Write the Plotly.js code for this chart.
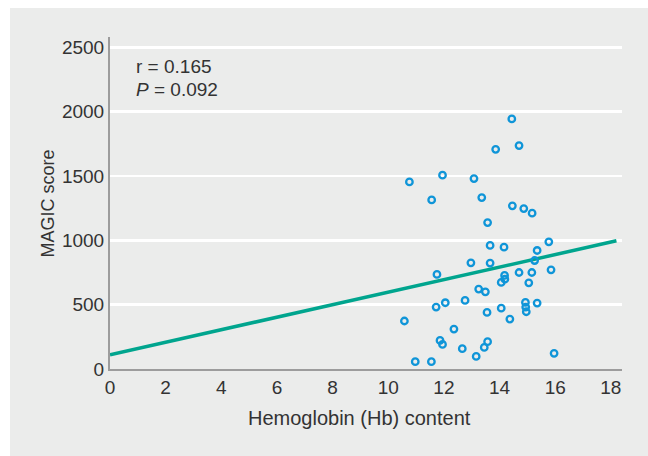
<!DOCTYPE html>
<html>
<head>
<meta charset="utf-8">
<script src="https://cdn.plot.ly/plotly-3.0.1.min.js"></script>
<style>
  html, body { margin: 0; padding: 0; background: #ffffff; }
  #wrap { position: relative; width: 648px; height: 456px; background: #ffffff; overflow: hidden; }
  #panel { position: absolute; left: 10px; top: 8px; width: 638px; height: 448px; background: #ebeceb; }
  #chart { position: absolute; left: 0; top: 0; width: 648px; height: 456px; }
</style>
</head>
<body>
<div id="wrap"><div id="panel"></div><div id="chart"></div></div>
<script>
// Hemoglobin (Hb) content vs MAGIC score
const hb = [14.44, 14.70, 13.86, 11.95, 10.76, 13.08, 11.56, 13.36, 14.46, 14.87,
            15.17, 13.57, 15.77, 13.66, 14.16, 15.35, 15.26, 12.97, 13.66, 11.75,
            15.85, 14.70, 15.16, 14.18, 14.19, 14.06, 15.05, 13.25, 13.49, 12.76,
            12.05, 11.72, 15.35, 14.93, 14.94, 14.96, 14.06, 13.55, 14.37, 10.58,
            12.36, 11.86, 11.95, 13.57, 13.45, 12.66, 13.16, 15.96, 10.97, 11.55];
const magic = [1943, 1736, 1707, 1506, 1454, 1480, 1314, 1332, 1268, 1247,
               1211, 1138, 988, 960, 947, 921, 843, 825, 823, 735,
               771, 750, 750, 727, 698, 673, 670, 621, 600, 533,
               515, 481, 512, 517, 481, 445, 473, 440, 388, 373,
               310, 222, 191, 212, 168, 158, 98, 122, 57, 57];
// regression line end points
const fitX = [0, 18.2];
const fitY = [111, 996];
const yTicks = [0, 500, 1000, 1500, 2000, 2500];
const xTicks = [0, 2, 4, 6, 8, 10, 12, 14, 16, 18];
const xTitle = "Hemoglobin (Hb) content";
const yTitle = "MAGIC score";
const statLines = ["r = 0.165", "<i>P</i> = 0.092"];

const FONT = "Liberation Sans, Arial, sans-serif";
const TXT = "#333333";

const traces = [
  {
    x: fitX, y: fitY, type: "scatter", mode: "lines",
    line: { color: "#00a58e", width: 3.5 },
    hoverinfo: "skip", showlegend: false
  },
  {
    x: hb, y: magic, type: "scatter", mode: "markers",
    marker: { symbol: "circle-open", size: 6.5, color: "#0f95d8", line: { width: 2.3, color: "#0f95d8" } },
    showlegend: false
  }
];

const layout = {
  width: 648, height: 456,
  margin: { l: 110, r: 26, t: 37, b: 87, pad: 0 },
  paper_bgcolor: "rgba(0,0,0,0)",
  plot_bgcolor: "#ebeceb",
  font: { family: FONT, color: TXT, size: 19 },
  showlegend: false,
  xaxis: {
    range: [0, 18.4],
    tickvals: xTicks,
    ticktext: xTicks.map(String),
    showgrid: false, zeroline: false,
    showline: true, linecolor: "#9c9c9c", linewidth: 2,
    ticks: "", tickfont: { family: FONT, size: 19, color: TXT },
    automargin: false, fixedrange: true
  },
  yaxis: {
    range: [0, 2580],
    tickvals: yTicks,
    ticktext: yTicks.map(String),
    showgrid: true, gridcolor: "#ffffff", gridwidth: 2.5,
    zeroline: false,
    showline: true, linecolor: "#9c9c9c", linewidth: 2,
    ticks: "", tickfont: { family: FONT, size: 19, color: TXT },
    automargin: false, fixedrange: true
  },
  annotations: [
    { x: 0.88, y: 2349, xref: "x", yref: "y", text: statLines[0], showarrow: false,
      xanchor: "left", yanchor: "middle", font: { family: FONT, size: 19, color: TXT } },
    { x: 0.88, y: 2174, xref: "x", yref: "y", text: statLines[1], showarrow: false,
      xanchor: "left", yanchor: "middle", font: { family: FONT, size: 19, color: TXT } },
    { x: 0.488, y: -0.148, xref: "paper", yref: "paper", text: xTitle, showarrow: false,
      xanchor: "center", yanchor: "middle", font: { family: FONT, size: 20, color: TXT } },
    { x: -0.122, y: 0.497, xref: "paper", yref: "paper", text: yTitle, showarrow: false,
      textangle: -90, xanchor: "center", yanchor: "middle", font: { family: FONT, size: 18, color: TXT } }
  ]
};

Plotly.newPlot("chart", traces, layout, { staticPlot: true, displayModeBar: false });
</script>
</body>
</html>
